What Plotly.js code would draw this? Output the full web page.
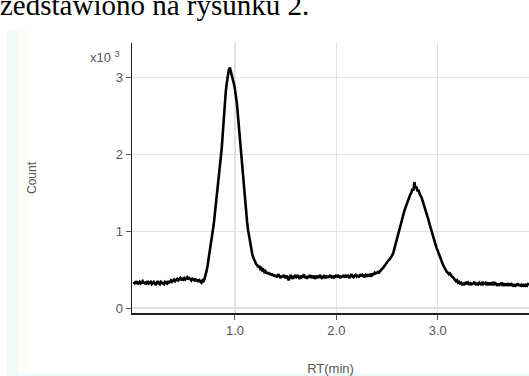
<!DOCTYPE html>
<html>
<head>
<meta charset="utf-8">
<script src="https://cdn.plot.ly/plotly-3.0.1.min.js"></script>
<style>
html,body{margin:0;padding:0;background:#fff;}
#chart{width:529px;height:376px;}
</style>
</head>
<body>
<div id="chart"></div>
<script>
// Retention time start / step (min) and counts (x10^3)
const rtStart = 0.0;
const rtStep = 0.01;
const counts = [
  0.34,0.32,0.33,0.35,0.31,0.33,0.34,0.32,0.33,0.35,
  0.32,0.34,0.31,0.33,0.35,0.32,0.33,0.34,0.31,0.33,
  0.34,0.32,0.30,0.33,0.35,0.32,0.31,0.34,0.33,0.32,
  0.31,0.34,0.33,0.32,0.35,0.33,0.34,0.36,0.34,0.35,
  0.37,0.35,0.36,0.38,0.36,0.37,0.39,0.36,0.38,0.37,
  0.39,0.37,0.38,0.40,0.37,0.39,0.38,0.36,0.38,0.37,
  0.36,0.38,0.35,0.37,0.34,0.36,0.35,0.33,0.36,0.35,
  0.38,0.42,0.48,0.55,0.63,0.72,0.81,0.90,0.98,1.08,
  1.20,1.32,1.43,1.55,1.68,1.82,1.95,2.08,2.27,2.48,
  2.70,2.82,2.93,3.02,3.10,3.13,3.08,3.05,3.00,2.92,
  2.85,2.76,2.66,2.50,2.34,2.17,2.00,1.84,1.67,1.52,
  1.38,1.25,1.12,1.01,0.92,0.84,0.77,0.71,0.66,0.62,
  0.60,0.57,0.56,0.53,0.55,0.51,0.52,0.49,0.50,0.47,
  0.48,0.45,0.47,0.44,0.46,0.43,0.45,0.42,0.44,0.41,
  0.43,0.40,0.42,0.44,0.41,0.39,0.42,0.40,0.43,0.41,
  0.39,0.42,0.40,0.36,0.41,0.43,0.40,0.38,0.41,0.42,
  0.39,0.41,0.43,0.40,0.38,0.42,0.40,0.41,0.44,0.39,
  0.41,0.38,0.42,0.40,0.43,0.39,0.41,0.40,0.42,0.38,
  0.40,0.42,0.39,0.41,0.43,0.40,0.38,0.41,0.42,0.40,
  0.41,0.39,0.42,0.40,0.43,0.41,0.39,0.42,0.40,0.41,
  0.43,0.40,0.42,0.41,0.39,0.42,0.40,0.43,0.41,0.42,
  0.40,0.43,0.41,0.39,0.42,0.44,0.41,0.40,0.42,0.43,
  0.41,0.43,0.40,0.42,0.44,0.41,0.43,0.42,0.40,0.43,
  0.42,0.44,0.41,0.43,0.42,0.45,0.43,0.44,0.46,0.45,
  0.46,0.47,0.46,0.48,0.49,0.51,0.52,0.54,0.56,0.57,
  0.59,0.61,0.63,0.64,0.66,0.68,0.71,0.76,0.81,0.87,
  0.93,0.99,1.04,1.09,1.13,1.17,1.21,1.26,1.30,1.34,
  1.38,1.42,1.45,1.48,1.50,1.55,1.53,1.64,1.56,1.58,
  1.52,1.54,1.49,1.47,1.44,1.40,1.36,1.32,1.28,1.23,
  1.19,1.14,1.09,1.04,0.99,0.95,0.91,0.86,0.82,0.78,
  0.74,0.70,0.67,0.63,0.60,0.57,0.54,0.51,0.49,0.47,
  0.46,0.44,0.45,0.42,0.41,0.40,0.38,0.37,0.35,0.36,
  0.33,0.34,0.32,0.33,0.31,0.33,0.30,0.32,0.34,0.31,
  0.33,0.31,0.32,0.30,0.33,0.31,0.34,0.32,0.30,0.33,
  0.31,0.33,0.32,0.30,0.34,0.31,0.32,0.33,0.30,0.32,
  0.31,0.33,0.30,0.32,0.31,0.34,0.30,0.32,0.31,0.29,
  0.32,0.30,0.31,0.33,0.29,0.31,0.30,0.32,0.29,0.31,
  0.30,0.32,0.29,0.31,0.30,0.28,0.31,0.29,0.30,0.32,
  0.29,0.31,0.28,0.30,0.29,0.31,0.28,0.30,0.29,0.31,
  0.30
];
const xTickVals = [1, 2, 3];
const xTickText = ['1.0', '2.0', '3.0'];
const yTickVals = [0, 1, 2, 3];
const yTickText = ['0', '1', '2', '3'];

const rt = counts.map((_, i) => +(rtStart + i * rtStep).toFixed(2));

const trace = {
  type: 'scatter', mode: 'lines',
  x: rt, y: counts,
  line: {color: '#000000', width: 2.6},
  hoverinfo: 'skip'
};

const tickFont = {family: 'Liberation Sans, Arial, sans-serif', size: 13, color: '#555555'};

const layout = {
  width: 529, height: 376,
  margin: {l: 132, r: 0, t: 43, b: 63},
  paper_bgcolor: '#ffffff', plot_bgcolor: '#ffffff',
  showlegend: false,
  xaxis: {
    range: [-0.015, 3.9],
    tickvals: xTickVals, ticktext: xTickText,
    ticks: 'outside', ticklen: 5, tickcolor: '#555555', tickwidth: 1,
    showline: true, linecolor: '#222222', linewidth: 1.5,
    showgrid: true, gridcolor: '#e2e2e2', gridwidth: 1.2,
    zeroline: false,
    tickfont: tickFont,
    title: {text: 'RT(min)', font: tickFont, standoff: 30}
  },
  yaxis: {
    range: [-0.065, 3.45],
    tickvals: yTickVals, ticktext: yTickText,
    ticks: 'outside', ticklen: 5, tickcolor: '#555555', tickwidth: 1,
    showline: true, linecolor: '#222222', linewidth: 1.5,
    showgrid: true, gridcolor: '#e2e2e2', gridwidth: 1.2,
    zeroline: false,
    tickfont: tickFont,
    title: {text: 'Count', font: {family: 'Liberation Sans, Arial, sans-serif', size: 12, color: '#555555'}, standoff: 76}
  },
  annotations: [
    {
      text: 'x10 <sup>3</sup>', xref: 'paper', yref: 'paper',
      x: -10/397, y: 1.0, xanchor: 'right', yanchor: 'top', yshift: -4,
      showarrow: false, font: tickFont
    },
    {
      text: 'zedstawiono na rysunku 2.', xref: 'paper', yref: 'paper',
      x: -132/397, y: 1 + 43/270, xanchor: 'left', yanchor: 'top', xshift: -2, yshift: 13,
      showarrow: false,
      font: {family: 'Liberation Serif, Times New Roman, serif', size: 29, color: '#000000'}
    }
  ],
  shapes: [
    {type: 'rect', xref: 'paper', yref: 'paper', layer: 'below',
     x0: -125/397, x1: -114/397, y0: -60/270, y1: 1 + 13/270,
     fillcolor: '#f1fbfb', line: {width: 0}},
    {type: 'rect', xref: 'paper', yref: 'paper', layer: 'below',
     x0: -114/397, x1: -104/397, y0: -60/270, y1: 1 + 13/270,
     fillcolor: '#fdfcf6', line: {width: 0}},
    {type: 'rect', xref: 'paper', yref: 'paper', layer: 'below',
     x0: -125/397, x1: 1, y0: -63/270, y1: -60/270,
     fillcolor: '#f1fbfb', line: {width: 0}}
  ]
};

Plotly.newPlot('chart', [trace], layout, {displayModeBar: false, staticPlot: true});
</script>
</body>
</html>
